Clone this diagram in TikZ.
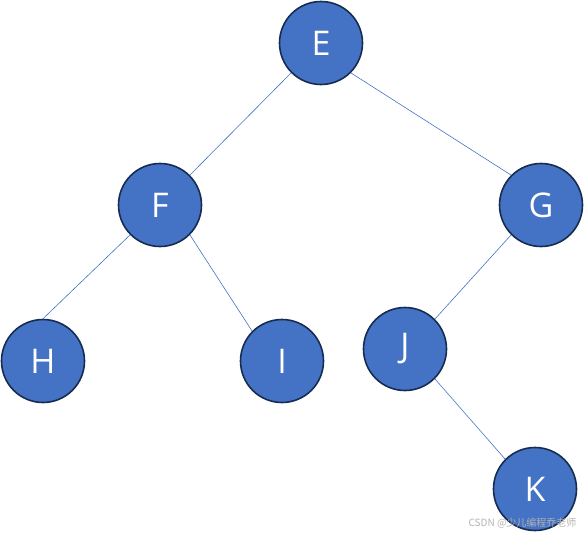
\documentclass[tikz,border=0pt]{standalone}
\usepackage{fontspec}
\setmainfont{Open Sans}
\newfontfamily\cjkfont{Noto Sans CJK SC}
\definecolor{nodeblue}{HTML}{4472C4}
\definecolor{nodeedge}{HTML}{172C51}
\tikzset{
  treenode/.style={circle, fill=nodeblue, draw=nodeedge, line width=1.6pt,
    minimum size=83pt, inner sep=0pt, text=white,
    font=\fontsize{34}{40}\selectfont},
  treeedge/.style={draw=nodeblue, line width=0.6pt}
}

\begin{document}
\begin{tikzpicture}[x=1pt, y=-1pt]
			\useasboundingbox (0,0) rectangle (584,535);

			% Nodes
			\node[treenode] (E) at (321,43) {E};
			\node[treenode] (F) at (160,205) {F};
			\node[treenode] (G) at (541,205) {G};
			\node[treenode] (H) at (43,361) {H};
			\node[treenode] (I) at (282,361) {I};
			\node[treenode] (J) at (405,349) {J};
			\node[treenode] (K) at (535,489) {K};

			% Edges
			\draw[treeedge] (E.225) -- (F.45);
			\draw[treeedge] (E.315) -- (G.135);
			\draw[treeedge] (F.225) -- (H.north);
			\draw[treeedge] (F.315) -- (I.135);
			\draw[treeedge] (G.225) -- (J.45);
			\draw[treeedge] (J.315) -- (K.135);

			% Watermark
			\node[anchor=east, text=black!30, font=\cjkfont\fontsize{10}{12}\selectfont] (mark) at (580,523) {CSDN @少儿编程乔老师};
		\end{tikzpicture}
\end{document}
